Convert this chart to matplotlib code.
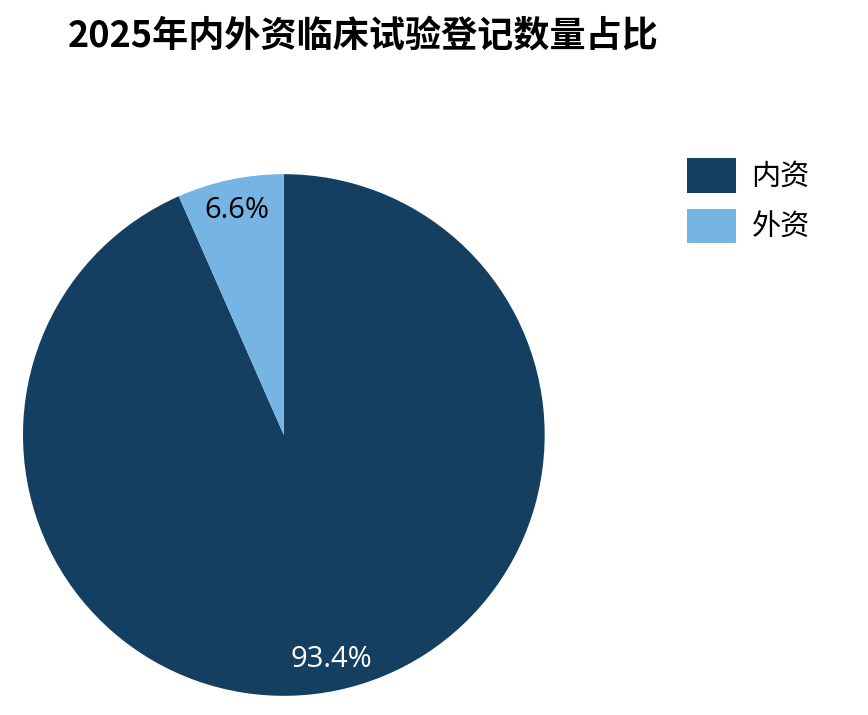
import matplotlib.pyplot as plt

plt.rcParams['font.family'] = ['Noto Sans CJK SC', 'DejaVu Sans']

labels = ["内资", "外资"]
shares = [93.4, 6.6]
colors = ["#143F60", "#75B4E3"]

fig = plt.figure(figsize=(8.68, 7.15), dpi=100)
ax = fig.add_axes([0.0265, 0.0266, 0.601, 0.730])
wedges, texts, autotexts = ax.pie(shares, colors=colors, startangle=90, counterclock=False,
                                  autopct="%.1f%%", pctdistance=0.88, radius=1.0,
                                  wedgeprops=dict(linewidth=0))
autotexts[0].set_color("white")
autotexts[1].set_color("black")
for t in autotexts:
    t.set_fontsize(21)
    t.set_family(['Open Sans', 'DejaVu Sans'])
ax.set_xlim(-1, 1)
ax.set_ylim(-1, 1)
ax.set_aspect('equal')

fig.text(0.078, 0.950, "2025年内外资临床试验登记数量占比", fontsize=26, fontweight='bold',
         ha='left', va='center')

fig.legend(wedges, labels, loc='upper left', bbox_to_anchor=(0.792, 0.779), frameon=False,
           fontsize=21, handlelength=1.65, handleheight=1.45, labelspacing=0.55,
           handletextpad=0.55, borderaxespad=0, borderpad=0)

fig.savefig("out.png", dpi=100)
